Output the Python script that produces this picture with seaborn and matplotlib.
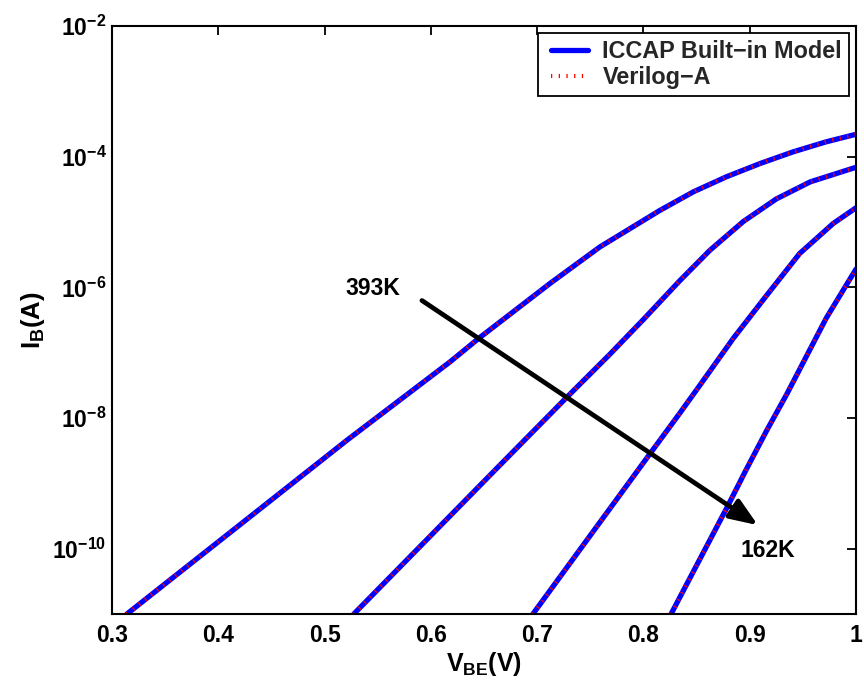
import numpy as np
import pandas as pd
import matplotlib
matplotlib.use("Agg")
import matplotlib.pyplot as plt
import seaborn as sns
from matplotlib.lines import Line2D
from matplotlib.legend_handler import HandlerLine2D
from matplotlib.ticker import FixedLocator, FixedFormatter, NullLocator

# ---- data (log10 of I_B in A) ----
temps = ["393K", "T2", "T3", "162K"]

vbe_393 = [0.314, 0.521, 0.618, 0.645, 0.712, 0.759, 0.8155, 0.847, 0.878, 0.910,
           0.941, 0.972, 1.0]
logib_393 = [-11.0, -8.34, -7.14, -6.78, -5.94, -5.38, -4.82, -4.536, -4.306, -4.101,
             -3.923, -3.770, -3.655]

vbe_t2 = [0.5275, 0.665, 0.728, 0.768, 0.800, 0.834, 0.8626, 0.894, 0.925, 0.957, 1.0]
logib_t2 = [-11.0, -8.72, -7.68, -7.03, -6.49, -5.90, -5.43, -4.99, -4.645, -4.383, -4.16]

vbe_t3 = [0.696, 0.806, 0.834, 0.853, 0.8845, 0.916, 0.947, 0.9786, 1.0]
logib_t3 = [-11.0, -8.55, -7.93, -7.50, -6.78, -6.12, -5.48, -5.02, -4.78]

vbe_162 = [0.826, 0.8786, 0.897, 0.916, 0.935, 0.9535, 0.972, 0.988, 1.0]
logib_162 = [-11.0, -9.37, -8.78, -8.19, -7.63, -7.05, -6.47, -6.04, -5.72]

x_ticks = [0.3, 0.4, 0.5, 0.6, 0.7, 0.8, 0.9, 1.0]
x_tick_labels = ["0.3", "0.4", "0.5", "0.6", "0.7", "0.8", "0.9", "1"]
y_tick_exps = [-10, -8, -6, -4, -2]

legend_labels = ["ICCAP Built\u2212in Model", "Verilog\u2212A"]

arrow_start = (0.5916, 10 ** -6.20)
arrow_end = (0.9077, 10 ** -9.64)
label_hot = ("393K", 0.5455, 10 ** -6.01)
label_cold = ("162K", 0.917, 10 ** -10.03)

# ---- style ----
sns.set_theme(style="white")
plt.rcParams["font.family"] = ["Liberation Sans", "DejaVu Sans"]
plt.rcParams["font.weight"] = "bold"
plt.rcParams["mathtext.fontset"] = "custom"
for k in ["rm", "bf", "it", "sf"]:
    plt.rcParams["mathtext." + k] = "Liberation Sans:bold"
plt.rcParams["axes.unicode_minus"] = True

FS = 16.5

fig = plt.figure(figsize=(8.64, 6.83), dpi=100)
ax = fig.add_axes([112 / 864, 1 - 614 / 683, (856 - 112) / 864, (614 - 26.2) / 683])

rows = []
for t, xs, ys in zip(temps, [vbe_393, vbe_t2, vbe_t3, vbe_162],
                     [logib_393, logib_t2, logib_t3, logib_162]):
    for xv, yv in zip(xs, ys):
        rows.append({"T": t, "VBE": xv, "IB": 10.0 ** yv})
df = pd.DataFrame(rows)

blue_lw = 3.8
red_lw = 3.0
red_ls = (0, (0.3, 1.55))
sns.lineplot(data=df, x="VBE", y="IB", units="T", estimator=None,
             color="#0000ff", lw=blue_lw, ax=ax, legend=False, sort=True)
sns.lineplot(data=df, x="VBE", y="IB", units="T", estimator=None,
             color="#ff0000", lw=red_lw, ls=red_ls, ax=ax, legend=False, sort=True)
for ln in ax.get_lines():
    ln.set_solid_joinstyle("round")

ax.set_yscale("log")
ax.set_xlim(0.3, 1.0)
ax.set_ylim(10 ** -11, 10 ** -2)

ax.xaxis.set_major_locator(FixedLocator(x_ticks))
ax.xaxis.set_major_formatter(FixedFormatter(x_tick_labels))
ax.xaxis.set_minor_locator(NullLocator())
ax.yaxis.set_major_locator(FixedLocator([10.0 ** e for e in y_tick_exps]))
ax.yaxis.set_major_formatter(FixedFormatter([r"$10^{%d}$" % e for e in y_tick_exps]))
ax.yaxis.set_minor_locator(NullLocator())

ax.tick_params(axis="both", which="major", direction="in", length=6.5, width=1.3,
               top=True, right=True, labelsize=FS, colors="black")
ax.tick_params(axis="x", pad=7)
ax.tick_params(axis="y", pad=4)
for lab in ax.get_xticklabels() + ax.get_yticklabels():
    lab.set_fontweight("bold")

for s in ax.spines.values():
    s.set_visible(True)
    s.set_color("black")
    s.set_linewidth(1.5)

ax.set_xlabel(r"$\mathrm{V_{BE}(V)}$", fontsize=18, labelpad=2, color="black")
ax.set_ylabel(r"$\mathrm{I_B(A)}$", fontsize=18.5, labelpad=4, color="black")

ax.annotate("", xy=arrow_end, xytext=arrow_start,
            arrowprops=dict(arrowstyle="-|>,head_length=1.4,head_width=0.55",
                            color="black", lw=3.4, shrinkA=0, shrinkB=0))
ax.text(label_hot[1], label_hot[2], label_hot[0], fontsize=FS, fontweight="bold",
        ha="center", va="center", color="black")
ax.text(label_cold[1], label_cold[2], label_cold[0], fontsize=FS, fontweight="bold",
        ha="center", va="center", color="black")


class ShortLine(HandlerLine2D):
    def get_xdata(self, legend, xdescent, ydescent, width, height, fontsize):
        x0 = -xdescent + width * (6.0 / 44.0)
        x1 = -xdescent + width
        return np.array([x0, x1]), np.array([(x0 + x1) / 2])


handles = [Line2D([], [], color="#0000ff", lw=blue_lw),
           Line2D([], [], color="#ff0000", lw=red_lw, ls=red_ls)]
leg = ax.legend(handles, legend_labels, loc="upper right", fontsize=16.8,
                frameon=True, fancybox=False, framealpha=1, edgecolor="black",
                borderaxespad=0.3, handlelength=1.85, handletextpad=0.62,
                labelspacing=0.12, borderpad=0.3,
                handler_map={Line2D: ShortLine()})
leg.get_frame().set_linewidth(1.3)
for t in leg.get_texts():
    t.set_fontweight("bold")

fig.savefig("out.png", dpi=100, facecolor="white")
